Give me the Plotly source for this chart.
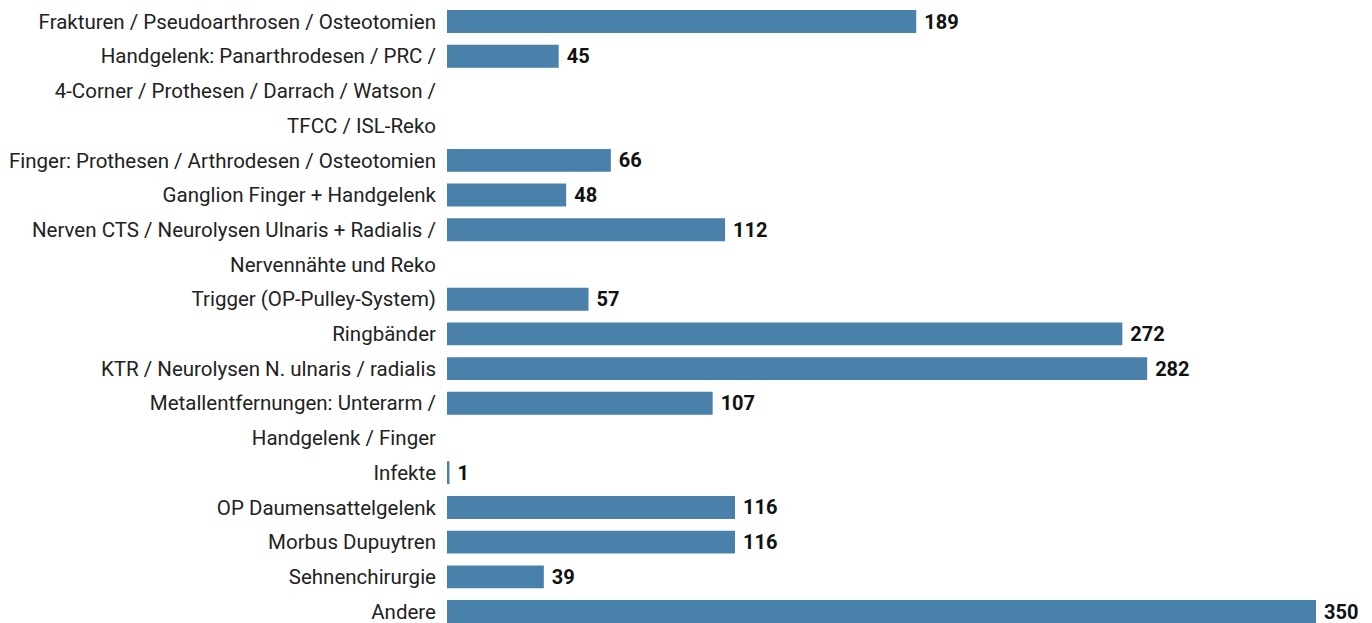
import plotly.graph_objects as go

categories = [
    "Frakturen / Pseudoarthrosen / Osteotomien",
    "Handgelenk: Panarthrodesen / PRC /<br>4-Corner / Prothesen / Darrach / Watson /<br>TFCC / ISL-Reko",
    "Finger: Prothesen / Arthrodesen / Osteotomien",
    "Ganglion Finger + Handgelenk",
    "Nerven CTS / Neurolysen Ulnaris + Radialis /<br>Nervennähte und Reko",
    "Trigger (OP-Pulley-System)",
    "Ringbänder",
    "KTR / Neurolysen N. ulnaris / radialis",
    "Metallentfernungen: Unterarm /<br>Handgelenk / Finger",
    "Infekte",
    "OP Daumensattelgelenk",
    "Morbus Dupuytren",
    "Sehnenchirurgie",
    "Andere",
]
values = [189, 45, 66, 48, 112, 57, 272, 282, 107, 1, 116, 116, 39, 350]

# Each label line occupies its own row; the bar sits on the first line.
rows, row_vals, row_text = [], [], []
for cat, v in zip(categories, values):
    lines = cat.split("<br>")
    for i, line in enumerate(lines):
        rows.append(line)
        row_vals.append(v if i == 0 else None)
        row_text.append(f"{v}" if i == 0 else "")

BAR = "#4a81ab"

fig = go.Figure(
    go.Bar(
        y=rows,
        x=row_vals,
        orientation="h",
        marker=dict(color=BAR, line=dict(width=0)),
        width=0.66,
        text=row_text,
        texttemplate=" %{text}",
        textposition="outside",
        cliponaxis=False,
        constraintext="none",
        textfont=dict(family="Roboto", size=20, color="#111111", weight="bold"),
    )
)

fig.update_layout(
    width=1372,
    height=623,
    margin=dict(l=447, r=56, t=0, b=0),
    plot_bgcolor="white",
    paper_bgcolor="white",
    showlegend=False,
    font=dict(family="Roboto", size=20, color="#222222"),
)
fig.update_xaxes(range=[0, 350], visible=False, showgrid=False, zeroline=False)
fig.update_yaxes(
    type="category",
    categoryorder="array",
    categoryarray=rows,
    range=[17.33, -0.62],
    showgrid=False,
    zeroline=False,
    showline=False,
    ticks="",
    ticklabelstandoff=10,
    tickfont=dict(family="Roboto", size=20.5, color="#222222"),
)

fig.write_html("out.html")
